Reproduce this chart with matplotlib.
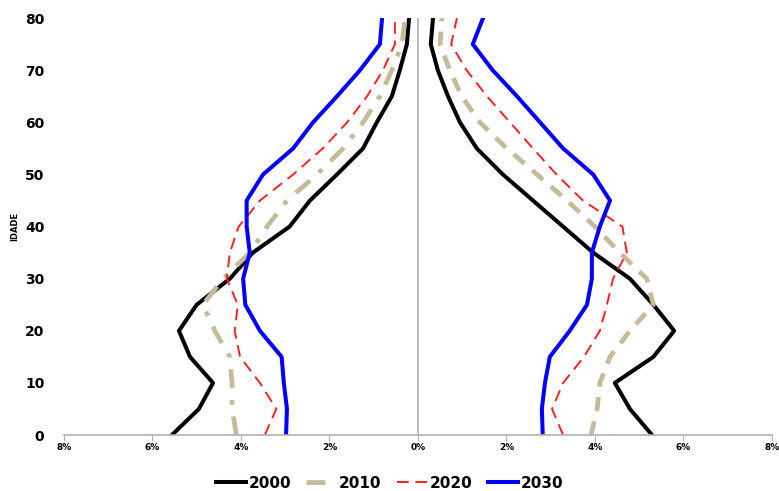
import numpy as np
from matplotlib import pyplot as plt
from matplotlib.ticker import FuncFormatter

ages = [0, 5, 10, 15, 20, 25, 30, 35, 40, 45, 50, 55, 60, 65, 70, 75, 80]

# left side (shown as negative), % of population
left_2000 = [5.56, 4.95, 4.63, 5.15, 5.4, 5.0, 4.25, 3.73, 2.9, 2.44, 1.83, 1.24, 0.93, 0.59, 0.41, 0.25, 0.2]
left_2010 = [4.1, 4.2, 4.2, 4.25, 4.59, 4.86, 4.4, 3.8, 3.41, 2.96, 2.28, 1.69, 1.24, 0.86, 0.59, 0.36, 0.29]
left_2020 = [3.46, 3.2, 3.57, 4.02, 4.14, 4.07, 4.32, 4.25, 4.05, 3.57, 2.82, 2.15, 1.6, 1.15, 0.79, 0.52, 0.52]
left_2030 = [2.98, 2.96, 3.03, 3.08, 3.57, 3.9, 3.95, 3.8, 3.87, 3.87, 3.5, 2.82, 2.37, 1.83, 1.31, 0.86, 0.81]

# right side
right_2000 = [5.29, 4.79, 4.45, 5.32, 5.79, 5.32, 4.79, 3.96, 3.28, 2.6, 1.92, 1.33, 0.95, 0.68, 0.45, 0.29, 0.34]
right_2010 = [3.91, 4.05, 4.11, 4.34, 4.79, 5.32, 5.17, 4.56, 4.0, 3.37, 2.69, 2.01, 1.4, 0.99, 0.72, 0.5, 0.54]
right_2020 = [3.28, 3.03, 3.28, 3.75, 4.11, 4.27, 4.41, 4.72, 4.62, 3.73, 3.13, 2.6, 2.08, 1.56, 1.1, 0.75, 0.88]
right_2030 = [2.82, 2.8, 2.87, 2.98, 3.43, 3.82, 3.93, 3.93, 4.11, 4.34, 3.96, 3.28, 2.76, 2.24, 1.69, 1.24, 1.47]

years = ["2000", "2010", "2020", "2030"]
tan = "#c6bb98"

fig = plt.figure(figsize=(7.79, 4.91), dpi=100)
ax = fig.add_axes([0.082, 0.114, 0.909, 0.849])

ax.axvline(0, color="#b0b0b0", lw=1.2, zorder=1)

l1, = ax.plot(-np.array(left_2000), ages, color="black", lw=2.9, solid_joinstyle="round")
ax.plot(right_2000, ages, color="black", lw=2.9, solid_joinstyle="round")

l2, = ax.plot(-np.array(left_2010), ages, color=tan, lw=3.4, dashes=(4, 2.5, 1, 2.5))
ax.plot(right_2010, ages, color=tan, lw=3.4, dashes=(3, 2.2))

l3, = ax.plot(-np.array(left_2020), ages, color="#ff2020", lw=1.4, dashes=(6, 3.5))
ax.plot(right_2020, ages, color="#ff2020", lw=1.4, dashes=(6, 3.5))

l4, = ax.plot(-np.array(left_2030), ages, color="#0000ff", lw=2.9, solid_joinstyle="round")
ax.plot(right_2030, ages, color="#0000ff", lw=2.9, solid_joinstyle="round")

ax.set_xlim(-8, 8)
ax.set_ylim(0, 80)
ax.set_xticks(np.arange(-8, 9, 2))
ax.set_yticks(np.arange(0, 81, 10))
ax.xaxis.set_major_formatter(FuncFormatter(lambda v, p: "%d%%" % abs(round(v))))

for s in ["top", "right", "left"]:
    ax.spines[s].set_visible(False)
ax.spines["bottom"].set_color("#b0b0b0")
ax.spines["bottom"].set_linewidth(1.2)
ax.tick_params(axis="x", length=4, color="#b0b0b0", labelsize=6.5, pad=2)
ax.tick_params(axis="y", length=0, labelsize=10, pad=14)
for t in ax.get_xticklabels() + ax.get_yticklabels():
    t.set_fontweight("bold")

ax.set_ylabel("IDADE", fontsize=6, fontweight="bold", labelpad=4)

leg = fig.legend([l1, l2, l3, l4], years, loc="center", bbox_to_anchor=(0.5, 0.016),
                 ncol=4, frameon=False, prop={"weight": "bold", "size": 11},
                 handlelength=2.0, handletextpad=0.15, columnspacing=1.0)

fig.savefig("out.png", dpi=100)
